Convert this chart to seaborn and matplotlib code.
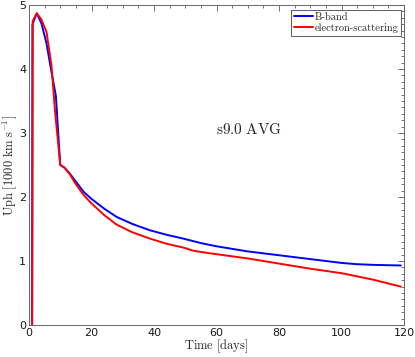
import pandas as pd
import numpy as np
import matplotlib.pyplot as plt
import seaborn as sns
from matplotlib.ticker import MultipleLocator

# Data
bband_days = [1, 1.1, 2.5, 4, 5.6, 7.2, 8.6, 10, 11.3, 13, 15, 17.5, 20, 24, 28,
              33, 38.7, 44, 49.4, 55, 60, 70, 80, 90, 100, 105, 110, 119]
bband_uph = [0, 4.7, 4.87, 4.71, 4.4, 3.95, 3.58, 2.5, 2.46, 2.37, 2.24, 2.08, 1.97,
             1.82, 1.69, 1.58, 1.48, 1.41, 1.35, 1.28, 1.23, 1.15, 1.09, 1.03,
             0.97, 0.95, 0.94, 0.93]

escat_days = [1, 1.2, 2.5, 4, 5.6, 7.2, 8.4, 10, 11.3, 13, 15, 17.5, 20, 24, 28,
              33, 38.7, 44, 49.4, 52.6, 58, 70, 80, 90, 100, 110, 119]
escat_uph = [0, 4.75, 4.87, 4.77, 4.58, 4.05, 3.3, 2.5, 2.46, 2.36, 2.2, 2.03, 1.9,
             1.72, 1.57, 1.45, 1.35, 1.27, 1.21, 1.16, 1.12, 1.04, 0.96, 0.88,
             0.81, 0.71, 0.6]

series_names = ['B-band', 'electron-scattering']
series_colors = ['#0000ff', '#ff0000']

df = pd.concat([
    pd.DataFrame({'day': bband_days, 'uph': bband_uph, 'band': series_names[0]}),
    pd.DataFrame({'day': escat_days, 'uph': escat_uph, 'band': series_names[1]}),
])

sns.set_style("white")
plt.rcParams['mathtext.fontset'] = 'cm'
plt.rcParams['font.family'] = ['DejaVu Sans']

fig = plt.figure(figsize=(4.15, 3.57), dpi=100)
ax = fig.add_axes([0.0699, 0.0896, 0.9036, 0.8964])

sns.lineplot(data=df, x='day', y='uph', hue='band', palette=series_colors,
             estimator=None, sort=False, linewidth=1.4, ax=ax)

ax.set_xlim(0, 120)
ax.set_ylim(0, 5)
ax.xaxis.set_major_locator(MultipleLocator(20))
ax.xaxis.set_minor_locator(MultipleLocator(5))
ax.yaxis.set_major_locator(MultipleLocator(1))
ax.yaxis.set_minor_locator(MultipleLocator(0.1))
ax.tick_params(which='both', direction='in', top=True, right=True,
               colors='0.35', labelcolor='0.1', labelsize=8, width=0.6, pad=2)
ax.tick_params(which='major', length=4)
ax.tick_params(which='minor', length=2)
for s in ax.spines.values():
    s.set_color('0.4')
    s.set_linewidth(0.7)

ax.set_xlabel(r'$\mathrm{Time\ [days]}$', fontsize=9, labelpad=0)
ax.set_ylabel(r'$\mathrm{Uph\ [1000\ km\ s^{-1}]}$', fontsize=9, labelpad=0)

ax.text(70.5, 3.05, r'$\mathrm{s9.0\ AVG}$', fontsize=11, ha='center', va='center')

leg = ax.legend(loc='upper right', bbox_to_anchor=(0.993, 0.985), frameon=True,
                fancybox=False, handlelength=1.9, handletextpad=0.15, borderpad=0.25,
                labelspacing=0.1, borderaxespad=0.0, prop={'family': 'cmr10', 'size': 7.5})
leg.get_frame().set_edgecolor('0.2')
leg.get_frame().set_linewidth(0.7)

fig.savefig('out.png', dpi=100)
